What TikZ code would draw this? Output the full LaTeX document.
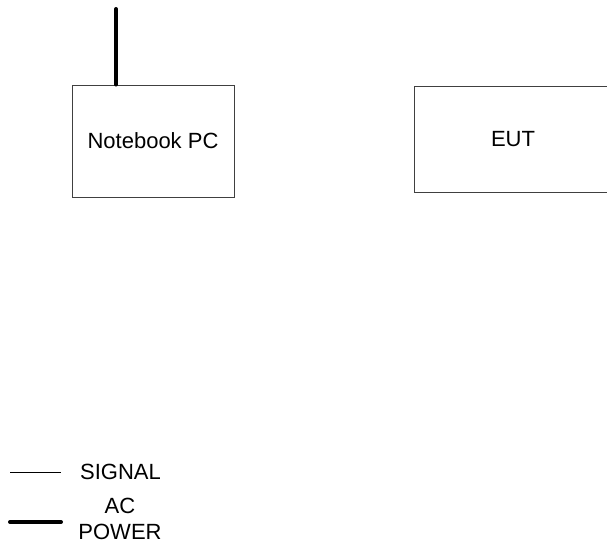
\documentclass[tikz,border=0pt]{standalone}
\usepackage{fontspec}
\setmainfont{Liberation Sans}
\begin{document}
\begin{tikzpicture}[x=1pt,y=-1pt,
    unit/.style={draw=black!75,line width=1pt,inner sep=0pt,font=\fontsize{22}{26}\selectfont},
    legendtext/.style={inner sep=0pt,align=center,font=\fontsize{22}{26}\selectfont},
    power/.style={line width=4pt,line cap=round},
    signal/.style={line width=1pt}]
  \useasboundingbox (0,0) rectangle (607,544);

  % units
  \node[unit,minimum width=162,minimum height=112] (pc) at (153,141) {Notebook PC};
  \node[unit,minimum width=198,minimum height=106] (eut) at (513,139) {EUT};

  % ac power cord
  \coordinate (plug) at (116,9);
  \draw[power] (plug) -- (plug |- pc.north);

  % legend
  \node[legendtext,anchor=west] (sig) at (80,472) {SIGNAL};
  \node[legendtext] (ac) at (120,519) {AC\\POWER};
  \draw[signal] (10,472) -- (61,472);
  \draw[power] (10,522) -- (61,522);
\end{tikzpicture}
\end{document}
